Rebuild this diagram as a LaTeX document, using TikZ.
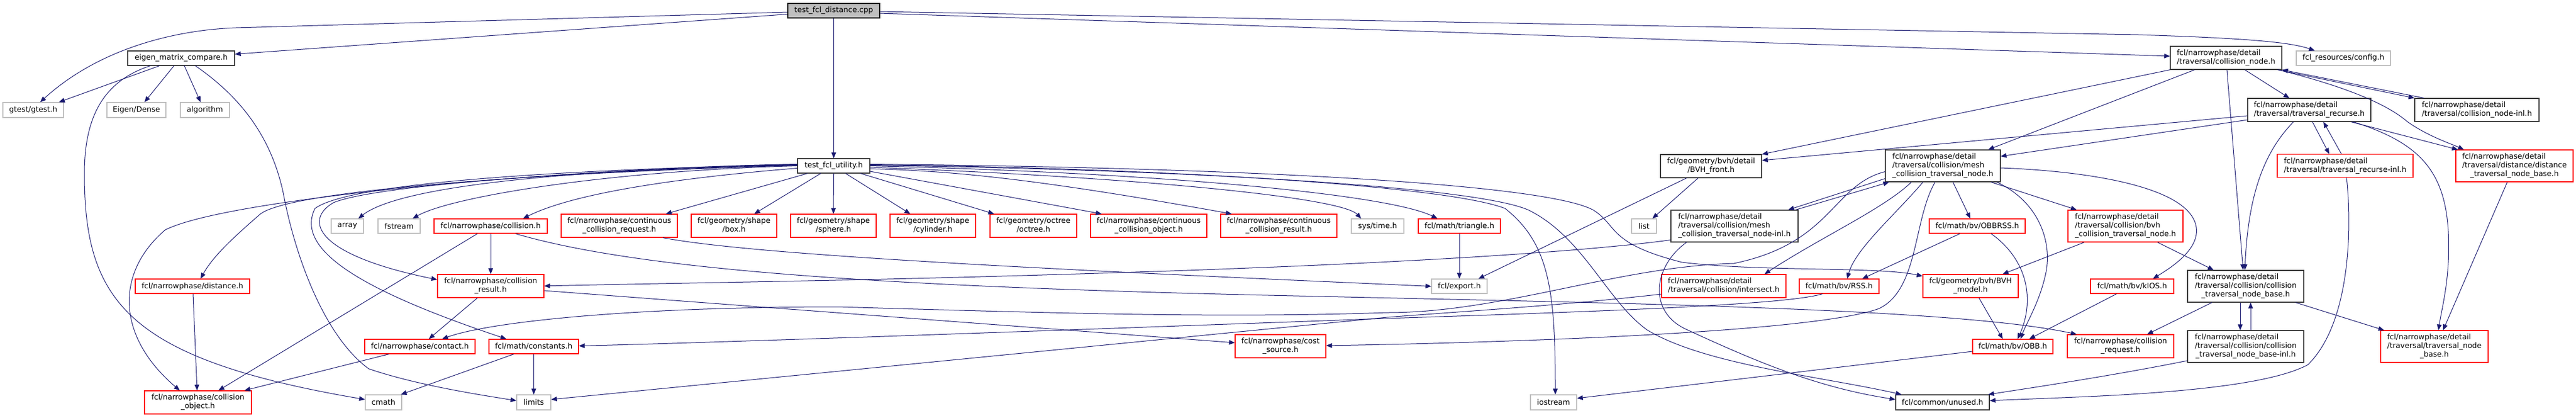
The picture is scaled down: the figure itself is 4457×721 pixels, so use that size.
\documentclass[tikz,border=0pt]{standalone}
\usepackage{fontspec}
\setmainfont{DejaVu Sans}
\usetikzlibrary{arrows.meta}
\definecolor{edgec}{HTML}{191970}
\definecolor{greyext}{HTML}{BFBFBF}
\definecolor{nbcol}{HTML}{3A3A3A}
\definecolor{rootfill}{HTML}{BFBFBF}
\newcommand{\twol}[2]{\begin{tabular}{@{}l@{}}#1\\\multicolumn{1}{@{}c@{}}{#2}\end{tabular}}
\newcommand{\threel}[3]{\begin{tabular}{@{}l@{}}#1\\#2\\\multicolumn{1}{@{}c@{}}{#3}\end{tabular}}
\tikzset{
  base/.style={draw, line width=1.2pt, inner sep=0pt, font=\fontsize{13}{15}\selectfont},
  nb/.style={base, draw=nbcol, fill=white},
  nr/.style={base, draw=red, fill=white},
  ng/.style={base, draw=greyext, fill=white},
  rootn/.style={base, draw=black, fill=rootfill},
  sz/.style 2 args={minimum width=#1pt, minimum height=#2pt},
  e/.style={draw=edgec, line width=1pt, -{Triangle[length=10pt,width=8pt]}}
}
\begin{document}
\begin{tikzpicture}[x=1pt,y=-1pt]
\path[fill=white,use as bounding box] (0,0) rectangle (4457,721);
% ---------- nodes ----------
\node[rootn, sz={159}{25}] (dist) at (1442.5,18.5) {test\_fcl\_distance.cpp};
\node[nb, sz={185}{25}] (eigen) at (313.5,100.5) {eigen\_matrix\_compare.h};
\node[ng, sz={105}{26}] (gtest) at (57.5,190) {gtest/gtest.h};
\node[ng, sz={102}{26}] (dense) at (236,190) {Eigen/Dense};
\node[ng, sz={85}{26}] (algo) at (354.5,190) {algorithm};
\node[nb, sz={193}{40}] (cnode) at (3851.5,100) {\twol{fcl/narrowphase/detail}{/traversal/collision\_node.h}};
\node[ng, sz={163}{25}] (config) at (4054.5,100.5) {fcl\_resources/config.h};
\node[nb, sz={213}{40}] (trec) at (3995.5,190) {\twol{fcl/narrowphase/detail}{/traversal/traversal\_recurse.h}};
\node[nb, sz={215}{40}] (cninl) at (4285.5,190) {\twol{fcl/narrowphase/detail}{/traversal/collision\_node-inl.h}};
\node[nb, sz={125}{25}] (utility) at (1442.5,286.5) {test\_fcl\_utility.h};
\node[nb, sz={175}{40}] (bvhfront) at (2960.5,287) {\twol{fcl/geometry/bvh/detail}{/BVH\_front.h}};
\node[nb, sz={199}{55}] (mesh) at (3361.5,286.5) {\threel{fcl/narrowphase/detail}{/traversal/collision/mesh}{\_collision\_traversal\_node.h}};
\node[nr, sz={235}{40}] (trecinl) at (4057.5,286.5) {\twol{fcl/narrowphase/detail}{/traversal/traversal\_recurse-inl.h}};
\node[nr, sz={203}{55}] (dtnb) at (4350.5,286.5) {\threel{fcl/narrowphase/detail}{/traversal/distance/distance}{\_traversal\_node\_base.h}};
\node[ng, sz={56}{25}] (array) at (601,390.5) {array};
\node[ng, sz={73}{25}] (fstream) at (690.5,390.5) {fstream};
\node[nr, sz={196}{25}] (coll) at (849,390.5) {fcl/narrowphase/collision.h};
\node[nr, sz={201}{40}] (ccreq) at (1071.5,390) {\twol{fcl/narrowphase/continuous}{\_collision\_request.h}};
\node[nr, sz={148}{40}] (box) at (1270,390) {\twol{fcl/geometry/shape}{/box.h}};
\node[nr, sz={148}{40}] (sphere) at (1442,390) {\twol{fcl/geometry/shape}{/sphere.h}};
\node[nr, sz={148}{40}] (cyl) at (1614,390) {\twol{fcl/geometry/shape}{/cylinder.h}};
\node[nr, sz={150}{40}] (octree) at (1788,390) {\twol{fcl/geometry/octree}{/octree.h}};
\node[nr, sz={201}{40}] (ccobj) at (1987.5,390) {\twol{fcl/narrowphase/continuous}{\_collision\_object.h}};
\node[nr, sz={201}{40}] (ccres) at (2212.5,390) {\twol{fcl/narrowphase/continuous}{\_collision\_result.h}};
\node[ng, sz={91}{25}] (systime) at (2383.5,390.5) {sys/time.h};
\node[nr, sz={142}{25}] (tri) at (2525,390.5) {fcl/math/triangle.h};
\node[ng, sz={43}{25}] (list) at (2844.5,390.5) {list};
\node[nb, sz={220}{55}] (meshinl) at (3001,390.5) {\threel{fcl/narrowphase/detail}{/traversal/collision/mesh}{\_collision\_traversal\_node-inl.h}};
\node[nr, sz={166}{25}] (obbrss) at (3421,390.5) {fcl/math/bv/OBBRSS.h};
\node[nr, sz={199}{55}] (bvhct) at (3677.5,390.5) {\threel{fcl/narrowphase/detail}{/traversal/collision/bvh}{\_collision\_traversal\_node.h}};
\node[nr, sz={198}{25}] (disth) at (333,494.5) {fcl/narrowphase/distance.h};
\node[nr, sz={184}{40}] (cres) at (849,494) {\twol{fcl/narrowphase/collision}{\_result.h}};
\node[ng, sz={96}{25}] (export) at (2525,494.5) {fcl/export.h};
\node[nr, sz={215}{40}] (isect) at (2982.5,494) {\twol{fcl/narrowphase/detail}{/traversal/collision/intersect.h}};
\node[nr, sz={138}{25}] (rss) at (3182,494.5) {fcl/math/bv/RSS.h};
\node[nr, sz={165}{40}] (bvhmodel) at (3409.5,494) {\twol{fcl/geometry/bvh/BVH}{\_model.h}};
\node[nr, sz={144}{25}] (kios) at (3689,494.5) {fcl/math/bv/kIOS.h};
\node[nb, sz={201}{55}] (ctnb) at (3885.5,494.5) {\threel{fcl/narrowphase/detail}{/traversal/collision/collision}{\_traversal\_node\_base.h}};
\node[nr, sz={191}{25}] (contact) at (726.5,598.5) {fcl/narrowphase/contact.h};
\node[nr, sz={155}{25}] (consts) at (923.5,598.5) {fcl/math/constants.h};
\node[nr, sz={157}{40}] (cost) at (2215.5,598) {\twol{fcl/narrowphase/cost}{\_source.h}};
\node[nr, sz={139}{25}] (obb) at (3482.5,598.5) {fcl/math/bv/OBB.h};
\node[nr, sz={184}{40}] (creq) at (3669,598) {\twol{fcl/narrowphase/collision}{\_request.h}};
\node[nb, sz={201}{55}] (ctnbinl) at (3885.5,598.5) {\threel{fcl/narrowphase/detail}{/traversal/collision/collision}{\_traversal\_node\_base-inl.h}};
\node[nr, sz={186}{55}] (tnb) at (4212,598.5) {\threel{fcl/narrowphase/detail}{/traversal/traversal\_node}{\_base.h}};
\node[nr, sz={185}{40}] (cobj) at (342.5,695) {\twol{fcl/narrowphase/collision}{\_object.h}};
\node[ng, sz={63}{26}] (cmath) at (663.5,695) {cmath};
\node[ng, sz={59}{26}] (limits) at (923.5,695) {limits};
\node[ng, sz={80}{26}] (iostream) at (2688,695) {iostream};
\node[nb, sz={162}{26}] (unused) at (3361,695) {fcl/common/unused.h};
% ---------- edges ----------
\draw[e] ([yshift=-6pt]dist.west) -- ([yshift=7pt]eigen.east);
\draw[e] ([yshift=-2.5pt]dist.west) -- (408,48) .. controls (300,52) and (170,85) .. ([xshift=12pt]gtest.north);
\draw[e] (dist.south) -- (utility.north);
\draw[e] ([yshift=-4.5pt]dist.east) -- ([yshift=3pt]cnode.west);
\draw[e] ([yshift=-1.5pt]dist.east) -- (3700,60) .. controls (3880,66) and (3960,72) .. ([xshift=-49.5pt]config.north);
\draw[e] ([xshift=-37.5pt]eigen.south) -- ([xshift=44.5pt]gtest.north);
\draw[e] ([xshift=-12.5pt]eigen.south) -- ([xshift=14pt]dense.north);
\draw[e] ([xshift=5.5pt]eigen.south) -- ([xshift=-7.5pt]algo.north);
\draw[e] ([xshift=-53.5pt]eigen.south) .. controls (180,140) and (146,200) .. (146,300) .. controls (146,520) and (220,620) .. ([yshift=5pt]cmath.west);
\draw[e] ([xshift=24.5pt]eigen.south) .. controls (420,170) and (470,240) .. (490,333) .. controls (510,440) and (560,580) .. (638,637) .. controls (720,665) and (830,682) .. ([yshift=3pt]limits.west);
% test_fcl_utility
\draw[e] ([yshift=2pt]utility.west) .. controls (900,295) and (680,330) .. ([xshift=19pt]array.north);
\draw[e] (utility.west) .. controls (1050,295) and (780,340) .. ([xshift=23.5pt]fstream.north);
\draw[e] ([yshift=-4pt]utility.west) .. controls (1200,305) and (1000,330) .. ([xshift=56pt]coll.north);
\draw[e] ([xshift=-45.5pt]utility.south) -- ([xshift=80.5pt]ccreq.north);
\draw[e] ([xshift=-22.5pt]utility.south) -- ([xshift=35pt]box.north);
\draw[e] (utility.south) -- (sphere.north);
\draw[e] ([xshift=20.5pt]utility.south) -- ([xshift=-39pt]cyl.north);
\draw[e] ([xshift=46.5pt]utility.south) -- ([xshift=-68pt]octree.north);
\draw[e] ([yshift=-9.5pt]utility.east) -- ([xshift=-81.5pt]ccobj.north);
\draw[e] ([yshift=-5pt]utility.east) .. controls (1650,295) and (1800,310) .. ([xshift=-81.5pt]ccres.north);
\draw[e] ([yshift=-2.5pt]utility.east) .. controls (1950,305) and (2320,340) .. ([xshift=-28.5pt]systime.north);
\draw[e] (utility.east) .. controls (2000,298) and (2400,335) .. ([xshift=-38pt]tri.north);
\draw[e] ([yshift=1pt]utility.west) .. controls (900,300) and (500,330) .. (450,370) .. controls (410,405) and (370,440) .. ([xshift=14pt]disth.north);
\draw[e] ([yshift=3pt]utility.west) .. controls (1000,290) and (400,340) .. (286,397) .. controls (200,470) and (200,580) .. ([xshift=-31.5pt]cobj.north);
\draw[e] ([yshift=1.5pt]utility.west) .. controls (1000,295) and (650,320) .. (577,350) .. controls (525,380) and (545,440) .. ([yshift=11pt]cres.west);
\draw[e] ([yshift=2.5pt]utility.west) .. controls (900,295) and (600,320) .. (545,360) .. controls (510,430) and (620,500) .. ([xshift=-47.5pt]consts.north);
\draw[e] ([yshift=2pt]utility.east) .. controls (2000,290) and (2500,320) .. (2604,360) .. controls (2680,420) and (2691,500) .. ([xshift=3pt]iostream.north);
\draw[e] ([yshift=1pt]utility.east) .. controls (2000,292) and (2550,320) .. (2645,363) .. controls (2740,410) and (2780,520) .. (2850,570) .. controls (2950,630) and (3150,650) .. ([xshift=-71pt]unused.north);
\draw[e] ([yshift=3pt]utility.east) .. controls (2200,290) and (2680,320) .. (2757,363) .. controls (2800,390) and (2780,420) .. (2910,453) .. controls (3050,470) and (3250,460) .. ([yshift=17pt]bvhmodel.west);
% collision.h etc.
\draw[e] ([xshift=-23pt]coll.south) -- ([xshift=35.5pt]cobj.north);
\draw[e] (coll.south) -- (cres.north);
\draw[e] ([xshift=43pt]coll.south) .. controls (1100,465) and (1500,490) .. (2000,505) .. controls (2600,522) and (3350,525) .. ([xshift=-76pt]creq.north);
\draw[e] ([xshift=75.5pt]ccreq.south) .. controls (1300,440) and (1800,465) .. (export.west);
\draw[e] (tri.south) -- (export.north);
\draw[e] ([xshift=-42.5pt]bvhfront.south) -- ([xshift=33pt]export.north);
\draw[e] ([xshift=-22.5pt]bvhfront.south) -- ([xshift=14.5pt]list.north);
% mesh traversal node
\draw[e] ([yshift=-22pt]mesh.west) -- ([xshift=93pt]meshinl.north);
\draw[e] ([xshift=106pt]meshinl.north) -- ([xshift=-93pt]mesh.south);
\draw[e] ([xshift=17.5pt]mesh.south) -- ([xshift=-12pt]obbrss.north);
\draw[e] ([xshift=83.5pt]mesh.south) -- ([xshift=-84.5pt]bvhct.north);
\draw[e] ([yshift=-3.5pt]mesh.east) .. controls (3600,295) and (3790,320) .. (3800,393) .. controls (3805,430) and (3760,460) .. ([xshift=36pt]kios.north);
\draw[e] ([xshift=93.5pt]mesh.south) .. controls (3530,350) and (3550,420) .. (3540,470) .. controls (3530,520) and (3505,560) .. ([xshift=13.5pt]obb.north);
\draw[e] ([xshift=-34.5pt]mesh.south) .. controls (3280,370) and (3210,430) .. ([xshift=14pt]rss.north);
\draw[e] ([xshift=-54.5pt]mesh.south) .. controls (3260,360) and (3150,410) .. ([xshift=70.5pt]isect.north);
\draw[e] ([yshift=-10pt]mesh.west) .. controls (3170,320) and (3170,420) .. (3000,455) .. controls (2800,460) and (2600,540) .. (2400,540) .. controls (2100,550) and (1800,540) .. (1450,530) .. controls (1100,530) and (850,555) .. ([xshift=38.5pt]contact.north);
\draw[e] ([xshift=-13.5pt]mesh.south) .. controls (3310,380) and (3320,500) .. (3251,533) .. controls (3150,570) and (2700,590) .. ([yshift=1pt]cost.east);
\draw[e] ([xshift=-83pt]meshinl.south) .. controls (2860,460) and (2850,540) .. (2920,570) .. controls (3050,630) and (3150,670) .. ([yshift=5pt]unused.west);
\draw[e] ([yshift=-24pt]meshinl.west) .. controls (2700,440) and (2300,460) .. (1900,472) .. controls (1500,485) and (1100,490) .. (cres.east);
\draw[e] ([xshift=-71.5pt]bvhct.south) -- ([xshift=55.5pt]bvhmodel.north);
\draw[e] ([xshift=55.5pt]bvhct.south) -- ([xshift=-55.5pt]ctnb.north);
\draw[e] ([xshift=24pt]obbrss.south) .. controls (3510,450) and (3520,520) .. ([xshift=8.5pt]obb.north);
\draw[e] ([xshift=-30pt]obbrss.south) -- ([xshift=40pt]rss.north);
\draw[e] ([xshift=14.5pt]bvhmodel.south) -- ([xshift=-17.5pt]obb.north);
\draw[e] ([xshift=-27pt]kios.south) -- ([xshift=28.5pt]obb.north);
\draw[e] ([xshift=-58.5pt]ctnb.south) -- ([xshift=46pt]creq.north);
\draw[e] ([xshift=-9.5pt]ctnb.south) -- ([xshift=-9.5pt]ctnbinl.north);
\draw[e] ([xshift=8.5pt]ctnbinl.north) -- ([xshift=8.5pt]ctnb.south);
\draw[e] ([xshift=86.5pt]ctnb.south) -- ([xshift=-87pt]tnb.north);
\draw[e] ([yshift=-24.5pt]ctnbinl.west) .. controls (3650,650) and (3500,672) .. ([xshift=79pt]unused.north);
\draw[e] ([xshift=2.5pt]trecinl.south) .. controls (4070,400) and (4065,560) .. (3993,630) .. controls (3900,680) and (3600,685) .. ([yshift=3pt]unused.east);
\draw[e] ([xshift=-6.5pt]trecinl.north) -- ([xshift=24.5pt]trec.south);
\draw[e] ([xshift=5.5pt]trec.south) -- ([xshift=-27.5pt]trecinl.north);
\draw[e] ([xshift=72.5pt]trec.south) -- ([xshift=-98pt]dtnb.north);
\draw[e] ([xshift=90.5pt]cnode.south) .. controls (4060,150) and (4130,180) .. (4165,210) .. controls (4200,235) and (4240,248) .. ([xshift=-87.5pt]dtnb.north);
\draw[e] ([xshift=76.5pt]trec.south) .. controls (4180,245) and (4230,290) .. (4236,400) .. controls (4240,480) and (4225,530) .. ([xshift=7pt]tnb.north);
\draw[e] ([xshift=-12.5pt]dtnb.south) -- ([xshift=15pt]tnb.north);
\draw[e] ([xshift=32.5pt]cnode.south) -- ([xshift=-34.5pt]trec.north);
\draw[e] ([xshift=-8pt]cnode.south east) -- (cninl.north west);
\draw[e] ([xshift=-91.5pt]cninl.north) -- (cnode.south east);
\draw[e] ([xshift=-54.5pt]cnode.south) -- ([xshift=78.5pt]mesh.north);
\draw[e] (cnode.south west) -- (bvhfront.north east);
\draw[e] ([xshift=1.5pt]cnode.south) -- ([xshift=-4.5pt]ctnb.north);
\draw[e] ([xshift=-27.5pt]trec.south) .. controls (3920,260) and (3890,330) .. ([xshift=-1.5pt]ctnb.north);
\draw[e] ([yshift=-10pt]trec.west) -- ([yshift=10pt]bvhfront.east);
\draw[e] ([yshift=-17pt]trec.west) -- ([yshift=16.5pt]mesh.east);
% lower rows
\draw[e] ([xshift=-53.5pt]contact.south) -- ([xshift=80.5pt]cobj.north);
\draw[e] ([xshift=1pt]disth.south) -- ([xshift=-1.5pt]cobj.north);
\draw[e] ([xshift=-23pt]cres.south) -- ([xshift=15.5pt]contact.north);
\draw[e] ([yshift=-8pt]cres.east) -- ([yshift=6pt]cost.west);
\draw[e] ([xshift=-34.5pt]consts.south) -- ([xshift=-2pt]cmath.north east);
\draw[e] (consts.south) -- (limits.north);
\draw[e] ([xshift=-29pt]rss.south) .. controls (3090,528) and (2700,540) .. (2400,550) .. controls (1900,568) and (1300,590) .. ([yshift=1pt]consts.east);
\draw[e] ([yshift=-14pt]isect.west) .. controls (2700,528) and (2500,540) .. (2400,548) -- ([yshift=5pt]limits.east);
\draw[e] ([yshift=-8.5pt]obb.west) -- ([yshift=7pt]iostream.east);
\end{tikzpicture}
\end{document}
